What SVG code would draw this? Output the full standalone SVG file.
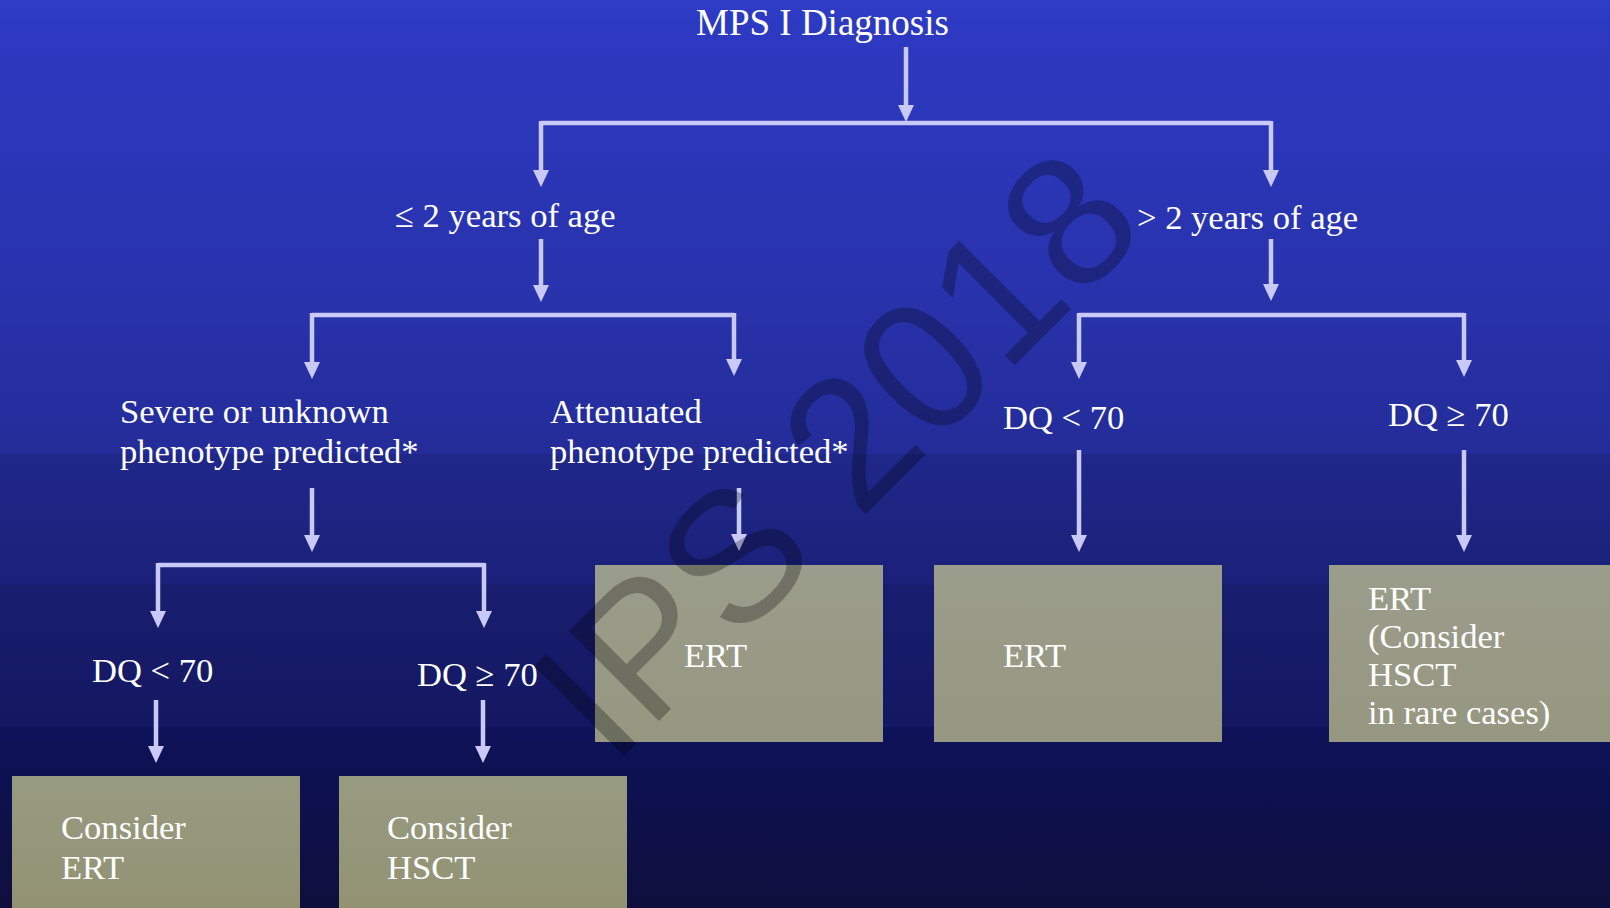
<svg xmlns="http://www.w3.org/2000/svg" width="1610" height="908" viewBox="0 0 1610 908">
  <defs>
    <linearGradient id="bg" x1="0" y1="0" x2="0" y2="1">
      <stop offset="0" stop-color="#2f3cc6"/>
      <stop offset="0.03" stop-color="#2c39c1"/>
      <stop offset="0.3" stop-color="#2933ae"/>
      <stop offset="0.5" stop-color="#232c98"/>
      <stop offset="0.5" stop-color="#1f2789"/>
      <stop offset="0.643" stop-color="#1b2179"/>
      <stop offset="0.645" stop-color="#181d6e"/>
      <stop offset="0.8" stop-color="#141862"/>
      <stop offset="0.801" stop-color="#0e1259"/>
      <stop offset="1" stop-color="#0e0f3c"/>
    </linearGradient>
    <linearGradient id="boxg" x1="0" y1="0" x2="0" y2="1">
      <stop offset="0" stop-color="#9b9d8c"/>
      <stop offset="1" stop-color="#959780"/>
    </linearGradient>
    <linearGradient id="boxg2" x1="0" y1="0" x2="0" y2="1">
      <stop offset="0" stop-color="#979b81"/>
      <stop offset="1" stop-color="#929272"/>
    </linearGradient>
    <marker id="ah" markerUnits="userSpaceOnUse" markerWidth="18" markerHeight="18" refX="7" refY="8" orient="auto">
      <path d="M0,0 L17,8 L0,16 z" fill="#c8c9f6"/>
    </marker>
    <style>
      .t { font-family: "Liberation Serif", "Times New Roman", serif; font-size: 34.6px; fill: #ffffff; }
      .title { font-size: 37px; }
      .ln { stroke: #c8c9f6; stroke-width: 4.5; fill: none; }
      .ar { stroke: #c8c9f6; stroke-width: 4.5; fill: none; marker-end: url(#ah); }
      .box { fill: url(#boxg); }
      .box2 { fill: url(#boxg2); }
    </style>
  </defs>

  <rect x="0" y="0" width="1610" height="908" fill="url(#bg)"/>

  <g id="connectors">
    <line class="ar" x1="906" y1="47" x2="906" y2="112"/>
    <line class="ln" x1="541" y1="123" x2="1271" y2="123"/>
    <line class="ar" x1="541" y1="121" x2="541" y2="177"/>
    <line class="ar" x1="1271" y1="121" x2="1271" y2="177"/>

    <line class="ar" x1="541" y1="239" x2="541" y2="292"/>
    <line class="ln" x1="312" y1="315" x2="734" y2="315"/>
    <line class="ar" x1="312" y1="313" x2="312" y2="369"/>
    <line class="ar" x1="734" y1="313" x2="734" y2="366"/>

    <line class="ar" x1="312" y1="488" x2="312" y2="542"/>
    <line class="ln" x1="158" y1="565" x2="484" y2="565"/>
    <line class="ar" x1="158" y1="563" x2="158" y2="618"/>
    <line class="ar" x1="484" y1="563" x2="484" y2="618"/>

    <line class="ar" x1="739" y1="488" x2="739" y2="541"/>

    <line class="ar" x1="156" y1="700" x2="156" y2="753"/>
    <line class="ar" x1="483" y1="700" x2="483" y2="753"/>

    <line class="ar" x1="1271" y1="239" x2="1271" y2="291"/>
    <line class="ln" x1="1079" y1="315" x2="1464" y2="315"/>
    <line class="ar" x1="1079" y1="313" x2="1079" y2="369"/>
    <line class="ar" x1="1464" y1="313" x2="1464" y2="367"/>

    <line class="ar" x1="1079" y1="450" x2="1079" y2="542"/>
    <line class="ar" x1="1464" y1="450" x2="1464" y2="542"/>
  </g>

  <g id="n-title"><text class="t title" x="696" y="35">MPS I Diagnosis</text></g>
  <g id="n-le2"><text class="t" x="395" y="227">≤ 2 years of age</text></g>
  <g id="n-gt2"><text class="t" x="1137" y="229">&gt; 2 years of age</text></g>
  <g id="n-severe">
    <text class="t" x="120" y="423">Severe or unknown</text>
    <text class="t" x="120" y="463">phenotype predicted*</text>
  </g>
  <g id="n-attenuated">
    <text class="t" x="550" y="423">Attenuated</text>
    <text class="t" x="550" y="463">phenotype predicted*</text>
  </g>
  <g id="n-dq-lt-left"><text class="t" x="92" y="682">DQ &lt; 70</text></g>
  <g id="n-dq-ge-left"><text class="t" x="417" y="686">DQ ≥ 70</text></g>
  <g id="n-dq-lt-right"><text class="t" x="1003" y="429">DQ &lt; 70</text></g>
  <g id="n-dq-ge-right"><text class="t" x="1388" y="426">DQ ≥ 70</text></g>

  <g id="n-ert-att">
    <rect class="box" x="595" y="565" width="288" height="177"/>
    <text class="t" x="684" y="667">ERT</text>
  </g>
  <g id="n-ert-dqlt">
    <rect class="box" x="934" y="565" width="288" height="177"/>
    <text class="t" x="1003" y="667">ERT</text>
  </g>
  <g id="n-ert-dqge">
    <rect class="box" x="1329" y="565" width="290" height="177"/>
    <text class="t" x="1368" y="610">ERT</text>
    <text class="t" x="1368" y="648">(Consider</text>
    <text class="t" x="1368" y="686">HSCT</text>
    <text class="t" x="1368" y="724">in rare cases)</text>
  </g>
  <g id="n-consider-ert">
    <rect class="box2" x="12" y="776" width="288" height="140"/>
    <text class="t" x="61" y="839">Consider</text>
    <text class="t" x="61" y="879">ERT</text>
  </g>
  <g id="n-consider-hsct">
    <rect class="box2" x="339" y="776" width="288" height="140"/>
    <text class="t" x="387" y="839">Consider</text>
    <text class="t" x="387" y="879">HSCT</text>
  </g>

  <g id="watermark">
    <text x="0" y="0" transform="translate(612,768) rotate(-45)" font-family="'Liberation Sans', Arial, sans-serif" font-size="185" fill="#000000" fill-opacity="0.27">IPS 2018</text>
  </g>
</svg>
